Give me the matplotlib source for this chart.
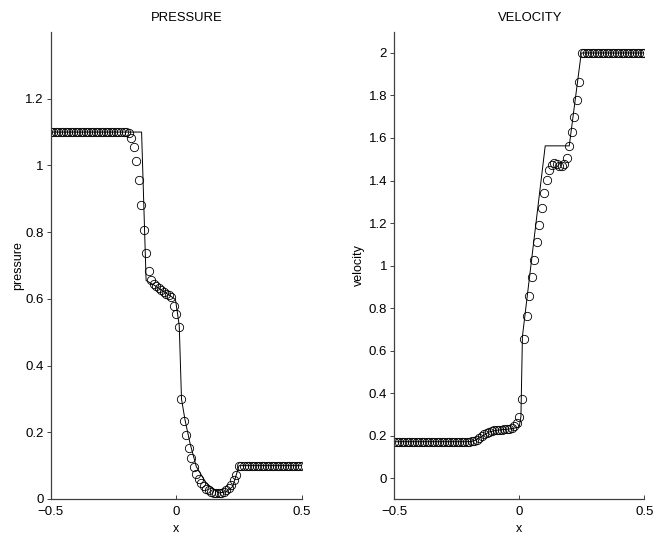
import numpy as np
import matplotlib
matplotlib.use('Agg')
from matplotlib import pyplot as plt

plt.rcParams['font.family'] = ['Liberation Sans', 'DejaVu Sans']

# cell positions of the numerical solution
x_cells = np.round(np.linspace(-0.5, 0.5, 101), 2)

# numerical pressure (circles)
pressure_num = ([1.1] * 30 +
                [1.099, 1.096, 1.082, 1.055, 1.013, 0.955, 0.882, 0.805, 0.737, 0.684,
                 0.657, 0.646, 0.638, 0.632, 0.627, 0.621, 0.616, 0.611, 0.605, 0.579,
                 0.555, 0.516, 0.299, 0.234, 0.192, 0.152, 0.122, 0.095, 0.074, 0.059,
                 0.047, 0.038, 0.031, 0.026, 0.022, 0.019, 0.018, 0.017, 0.018, 0.021,
                 0.026, 0.033, 0.043, 0.056, 0.072] +
                [0.1] * 26)

# numerical velocity (circles)
velocity_num = ([0.171] * 31 +
                [0.173, 0.176, 0.181, 0.188, 0.196, 0.205, 0.213, 0.219, 0.223, 0.225,
                 0.226, 0.227, 0.228, 0.229, 0.230, 0.232, 0.236, 0.245, 0.260,
                 0.286, 0.374, 0.656, 0.762, 0.855, 0.946, 1.027, 1.110, 1.191, 1.269,
                 1.343, 1.402, 1.449, 1.474, 1.482, 1.478, 1.470, 1.468, 1.476, 1.507,
                 1.562, 1.626, 1.700, 1.778, 1.864] +
                [2.0] * 26)

# reference solution (line)
x_p_ref = [-0.5, -0.138, -0.12, -0.09, -0.05, -0.02, -0.003, 0.012, 0.021, 0.035,
           0.055, 0.08, 0.12, 0.17, 0.2, 0.225, 0.245, 0.25, 0.5]
p_ref = [1.1, 1.1, 0.655, 0.642, 0.622, 0.607, 0.598, 0.52, 0.30, 0.237,
         0.167, 0.097, 0.047, 0.018, 0.022, 0.037, 0.087, 0.1, 0.1]

x_v_ref = [-0.5, -0.2, -0.18, -0.15, -0.12, -0.09, -0.03, 0.0, 0.007, 0.013,
           0.104, 0.2, 0.248, 0.5]
v_ref = [0.171, 0.171, 0.175, 0.195, 0.217, 0.225, 0.232, 0.24, 0.29, 0.667,
         1.563, 1.563, 2.0, 2.0]

fig = plt.figure(figsize=(6.64, 5.35), dpi=100)
ax1 = fig.add_axes([0.0764, 0.0673, 0.3780, 0.8729])
ax2 = fig.add_axes([0.5934, 0.0667, 0.3770, 0.8740])

panels = [
    (ax1, x_p_ref, p_ref, pressure_num, 'PRESSURE', 'pressure', (0, 1.4),
     np.arange(0, 1.21, 0.2), 0.5),
    (ax2, x_v_ref, v_ref, velocity_num, 'VELOCITY', 'velocity', (-0.1, 2.1),
     np.arange(0, 2.01, 0.2), 2.5),
]

for ax, xr, yr, ynum, title, ylab, ylim, yt, ypad in panels:
    ax.plot(xr, yr, 'k-', lw=0.7)
    ax.plot(x_cells, ynum, 'o', mfc='none', mec='k', ms=6, mew=0.6)
    ax.set_xlim(-0.5, 0.5)
    ax.set_ylim(*ylim)
    ax.set_xticks([-0.5, 0, 0.5])
    ax.set_xticklabels(['\u22120.5', '0', '0.5'])
    ax.set_yticks(yt)
    ax.set_yticklabels(['%g' % round(v, 1) for v in yt])
    ax.spines['top'].set_visible(False)
    ax.spines['right'].set_visible(False)
    for s in ('left', 'bottom'):
        ax.spines[s].set_color('#404040')
        ax.spines[s].set_linewidth(0.9)
    ax.tick_params(axis='x', direction='in', length=3, width=0.7, color='#404040',
                   labelsize=9.5, pad=5)
    ax.tick_params(axis='y', direction='out', length=3, width=0.7, color='#404040',
                   labelsize=9.5, pad=2)
    ax.set_title(title, fontsize=9.4, x=0.542, pad=8)
    ax.set_xlabel('x', fontsize=9, labelpad=3.5)
    ax.set_ylabel(ylab, fontsize=9, labelpad=ypad)

fig.savefig('out.png', dpi=100)
